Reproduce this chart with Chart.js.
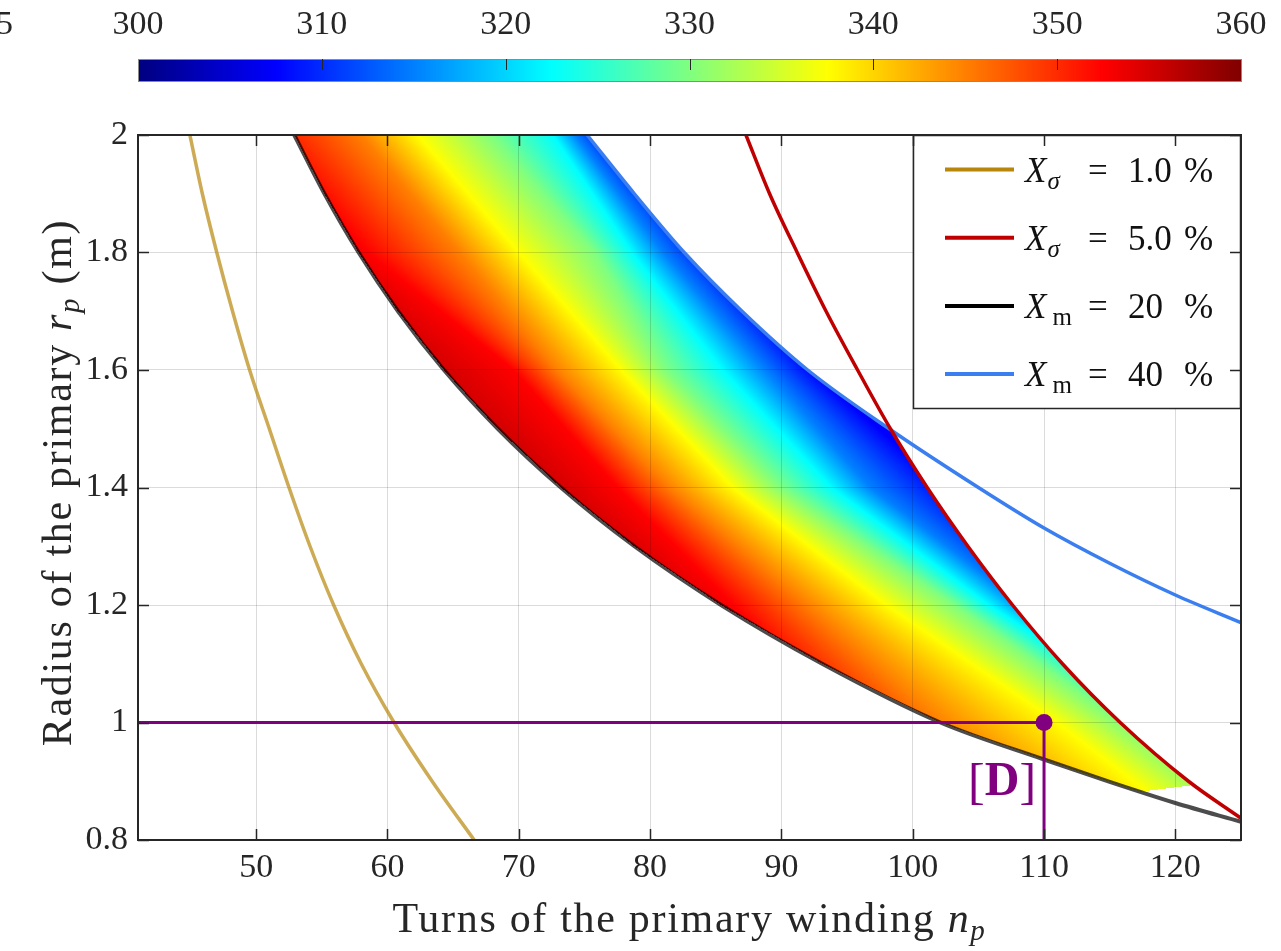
<!DOCTYPE html>
<html>
<head>
<meta charset="utf-8">
<script src="https://cdn.jsdelivr.net/npm/chart.js@4.4.1/dist/chart.umd.min.js"></script>
<style>
  html, body { margin: 0; padding: 0; background: #fff; }
</style>
</head>
<body>
<canvas id="chart" width="1281" height="951"></canvas>
<script>
const FONT = '"Liberation Serif", "Times New Roman", serif';
const INK = '#262626';

// axes
const xMin = 41, xMax = 125;
const yMin = 0.8, yMax = 2;
const xTicks = [50, 60, 70, 80, 90, 100, 110, 120];
const yTicks = [0.8, 1, 1.2, 1.4, 1.6, 1.8, 2];

// colour bar
const cbarMin = 300, cbarMax = 360;
const cbarTicks = [300, 310, 320, 330, 340, 350, 360];

// limit curves: turns n_p and radius r_p
const goldN = [44.95, 45.9, 47.0, 48.2, 49.5, 51.0, 52.5, 54.1, 55.9, 58.0, 60.5, 63.4, 66.6];
const goldR = [2.0, 1.9, 1.8, 1.7, 1.6, 1.5, 1.4, 1.3, 1.2, 1.1, 1.0, 0.9, 0.8];

const redN = [87.3, 89.1, 91.2, 93.4, 95.8, 98.3, 101.1, 104.2, 107.6, 111.4, 115.8, 121.0, 125];
const redR = [2.0, 1.9, 1.8, 1.7, 1.6, 1.5, 1.4, 1.3, 1.2, 1.1, 1.0, 0.9, 0.837];

const blackN = [52.9, 55.2, 57.8, 60.8, 64.3, 68.4, 73.2, 78.8, 85.4, 93.1, 102.1, 110, 115, 120, 125];
const blackR = [2.0, 1.9, 1.8, 1.7, 1.6, 1.5, 1.4, 1.3, 1.2, 1.1, 1.0, 0.937, 0.899, 0.863, 0.831];

const blueN = [75.2, 78.8, 82.6, 87.0, 92.0, 98.2, 105.0, 110, 115, 120, 125];
const blueR = [2.0, 1.9, 1.8, 1.7, 1.6, 1.5, 1.4, 1.331, 1.271, 1.217, 1.170];

// lower-right edge where the coloured field stops
const cutN = [117.6, 121.2];
const cutR = [0.883, 0.893];

// colour field: n_p where each colour level sits, at the radii in contourR
const contourR = [2.0, 1.8, 1.6, 1.4, 1.2, 1.0, 0.9];
const contourLevels = [357.5, 352.5, 345, 337.5, 330, 322.5, 315, 307.5];
const contour3575 = [42.0, 52.0, 59.0, 69.0, 80.0, 88.0, 96.0];
const contour3525 = [50.5, 58.5, 69.6, 77.5, 86.3, 94.5, 102.0];
const contour3450 = [58.0, 65.5, 72.9, 81.5, 92.0, 102.0, 108.0];
const contour3375 = [62.3, 70.0, 77.8, 86.3, 98.0, 111.0, 116.8];
const contour3300 = [67.9, 75.8, 81.2, 90.0, 103.2, 116.0, 122.5];
const contour3225 = [72.6, 78.6, 85.5, 93.8, 105.8, 119.5, 127.0];
const contour3150 = [74.3, 81.0, 88.8, 96.8, 108.5, 123.0, 131.0];
const contour3075 = [76.5, 84.5, 92.3, 102.5, 112.0, 127.0, 135.0];
const contours = [contour3575, contour3525, contour3450, contour3375, contour3300, contour3225, contour3150, contour3075];

// design point [D]
const markerN = 110, markerR = 1.0;
const markerLabel = 'D';

// legend
const legendSym = ['X', 'X', 'X', 'X'];
const legendSub = ['σ', 'σ', 'm', 'm'];
const legendVal = ['1.0', '5.0', '20', '40'];
const legendColors = ['rgb(184,134,11)', 'rgb(192,0,0)', 'rgb(0,0,0)', 'rgb(58,126,240)'];

const pts = (ns, rs) => ns.map((n, i) => ({ x: n, y: rs[i] }));

// linear interpolation, extrapolating past the ends
function interp(xs, ys, v) {
  const k = xs.length;
  const inc = xs[k - 1] > xs[0];
  let i = 0;
  for (; i < k - 2; i++) {
    if (inc ? v <= xs[i + 1] : v >= xs[i + 1]) break;
  }
  const t = (v - xs[i]) / (xs[i + 1] - xs[i]);
  return ys[i] + t * (ys[i + 1] - ys[i]);
}

function curveNAt(ns, rs, r) {
  if (r > rs[0]) return NaN;
  if (r < rs[rs.length - 1]) return Infinity;
  return interp(rs, ns, r);
}

function jet(v) {
  const t = Math.min(1, Math.max(0, (v - cbarMin) / (cbarMax - cbarMin)));
  const f = c => Math.round(255 * Math.min(1, Math.max(0, 1.5 - Math.abs(4 * t - c))));
  return [f(3), f(2), f(1)];
}

function fieldAt(iso, n) {
  if (n <= iso[0][0]) return iso[0][1];
  for (let k = 0; k < iso.length - 1; k++) {
    if (n <= iso[k + 1][0]) {
      const t = (n - iso[k][0]) / (iso[k + 1][0] - iso[k][0]);
      return iso[k][1] + t * (iso[k + 1][1] - iso[k][1]);
    }
  }
  return iso[iso.length - 1][1];
}

// coloured field goes under the grid, so it is painted before the axes
const heatmapPlugin = {
  id: 'heatmap',
  beforeDraw(chart) {
    const { ctx, chartArea: a, scales: { x, y } } = chart;
    const w = Math.round(a.right - a.left), h = Math.round(a.bottom - a.top);
    const off = document.createElement('canvas');
    off.width = w; off.height = h;
    const octx = off.getContext('2d');
    const img = octx.createImageData(w, h);
    const nCol = [];
    for (let i = 0; i < w; i++) nCol.push(x.getValueForPixel(a.left + i + 0.5));
    for (let j = 0; j < h; j++) {
      const r = y.getValueForPixel(a.top + j + 0.5);
      const lo = curveNAt(blackN, blackR, r);
      const hi = Math.min(curveNAt(blueN, blueR, r), curveNAt(redN, redR, r));
      if (isNaN(lo) || isNaN(hi) || !isFinite(lo)) continue;
      const iso = contourLevels.map((v, k) => [interp(contourR, contours[k], r), v]);
      for (let i = 0; i < w; i++) {
        const n = nCol[i];
        if (n < lo || n > hi) continue;
        if (r < interp(cutN, cutR, n)) continue;
        const c = jet(fieldAt(iso, n));
        const p = (j * w + i) * 4;
        img.data[p] = c[0]; img.data[p + 1] = c[1]; img.data[p + 2] = c[2]; img.data[p + 3] = 255;
      }
    }
    octx.putImageData(img, 0, 0);
    ctx.drawImage(off, a.left, a.top);
  }
};

function drawRuns(ctx, runs, x, y, align) {
  let total = 0;
  runs.forEach(r => { ctx.font = r[1]; total += ctx.measureText(r[0]).width; });
  let cx = align === 'center' ? x - total / 2 : (align === 'right' ? x - total : x);
  runs.forEach(r => {
    ctx.font = r[1];
    ctx.fillText(r[0], cx, y + (r[2] || 0));
    cx += ctx.measureText(r[0]).width;
  });
}

const decorPlugin = {
  id: 'decor',
  afterDraw(chart) {
    const { ctx, chartArea: a, scales: { x, y, cbar } } = chart;
    ctx.save();
    ctx.textAlign = 'left';
    ctx.textBaseline = 'alphabetic';

    // colour bar
    const cb0 = cbar.getPixelForValue(cbarMin), cb1 = cbar.getPixelForValue(cbarMax);
    const cbTop = 59, cbBot = 81;
    for (let px = Math.floor(cb0); px < cb1; px++) {
      const c = jet(cbar.getValueForPixel(px + 0.5));
      ctx.fillStyle = `rgb(${c[0]},${c[1]},${c[2]})`;
      ctx.fillRect(px, cbTop, 1, cbBot - cbTop);
    }
    ctx.strokeStyle = '#8a8a8a';
    ctx.lineWidth = 1;
    ctx.strokeRect(Math.floor(cb0) + 0.5, cbTop + 0.5, cb1 - cb0, cbBot - cbTop);
    ctx.strokeStyle = INK;
    cbarTicks.slice(1, -1).forEach(v => {
      const px = Math.round(cbar.getPixelForValue(v)) + 0.5;
      ctx.beginPath(); ctx.moveTo(px, cbTop); ctx.lineTo(px, cbTop + 11); ctx.stroke();
    });
    ctx.fillStyle = INK;
    ctx.font = `34px ${FONT}`;
    ctx.textAlign = 'right';
    ctx.textBaseline = 'middle';
    ctx.fillText('5', 13, 25);
    ctx.textAlign = 'left';
    ctx.textBaseline = 'alphabetic';

    // legend
    const lw = 328, lh = 273;
    const lx = a.right - lw, ly = a.top;
    ctx.fillStyle = '#fff';
    ctx.fillRect(lx, ly, lw, lh);
    ctx.strokeStyle = INK;
    ctx.lineWidth = 1.5;
    ctx.strokeRect(lx + 0.5, ly + 0.5, lw - 1, lh);
    legendSym.forEach((s, k) => {
      const cy = ly + 34.5 + k * 68.2;
      ctx.strokeStyle = legendColors[k];
      ctx.lineWidth = 4;
      ctx.beginPath(); ctx.moveTo(lx + 32, cy); ctx.lineTo(lx + 101, cy); ctx.stroke();
      ctx.fillStyle = '#111';
      const base = cy + 12;
      ctx.font = `italic 35px ${FONT}`;
      ctx.fillText(s, lx + 112, base);
      const sw = ctx.measureText(s).width;
      ctx.font = (legendSub[k] === 'm' ? '' : 'italic ') + `25px ${FONT}`;
      ctx.fillText(legendSub[k], lx + 112 + sw + (legendSub[k] === 'm' ? 6 : 1), base + 7);
      ctx.font = `35px ${FONT}`;
      ctx.fillText('=', lx + 175, base);
      ctx.fillText(legendVal[k], lx + 215, base);
      ctx.fillText('%', lx + 271, base);
    });

    // axis titles
    ctx.fillStyle = INK;
    ctx.letterSpacing = '1.7px';
    drawRuns(ctx, [
      ['Turns of the primary winding ', `42px ${FONT}`],
      ['n', `italic 42px ${FONT}`],
      ['p', `italic 29px ${FONT}`, 8]
    ], (a.left + a.right) / 2, 932, 'center');
    ctx.save();
    ctx.translate(71, (a.top + a.bottom) / 2 - 5);
    ctx.rotate(-Math.PI / 2);
    drawRuns(ctx, [
      ['Radius of the primary ', `42px ${FONT}`],
      ['r', `italic 42px ${FONT}`],
      ['p', `italic 29px ${FONT}`, 8],
      [' (m)', `42px ${FONT}`]
    ], 0, 0, 'center');
    ctx.restore();
    ctx.letterSpacing = '0px';

    // [D] label
    const mx = x.getPixelForValue(markerN), my = y.getPixelForValue(markerR);
    ctx.fillStyle = 'rgb(128,0,128)';
    const bracketFont = `50px ${FONT}`, dFont = `bold 48px ${FONT}`;
    drawRuns(ctx, [['[', bracketFont, 3], [markerLabel, dFont], [']', bracketFont, 3]], mx - 8, my + 72, 'right');

    // frame and inward ticks
    ctx.strokeStyle = INK;
    ctx.lineWidth = 2;
    ctx.strokeRect(a.left, a.top, a.right - a.left, a.bottom - a.top);
    ctx.lineWidth = 1.5;
    const tl = 11;
    xTicks.forEach(v => {
      const px = Math.round(x.getPixelForValue(v)) + 0.5;
      ctx.beginPath();
      ctx.moveTo(px, a.bottom); ctx.lineTo(px, a.bottom - tl);
      ctx.moveTo(px, a.top); ctx.lineTo(px, a.top + tl);
      ctx.stroke();
    });
    yTicks.forEach(v => {
      const py = Math.round(y.getPixelForValue(v)) + 0.5;
      ctx.beginPath();
      ctx.moveTo(a.left, py); ctx.lineTo(a.left + tl, py);
      ctx.moveTo(a.right, py); ctx.lineTo(a.right - tl, py);
      ctx.stroke();
    });
    ctx.restore();
  }
};

const lineDs = (label, ns, rs, color, width, order) => ({
  label, data: pts(ns, rs), showLine: true, borderColor: color, borderWidth: width,
  pointRadius: 0, cubicInterpolationMode: 'monotone', fill: false, order,
  xAxisID: 'x', yAxisID: 'y'
});

const tickFont = { family: FONT, size: 34 };
const noSidePadding = s => { s.paddingLeft = 0; s.paddingRight = 0; };

new Chart(document.getElementById('chart'), {
  type: 'scatter',
  data: {
    datasets: [
      {
        label: 'design guide', data: pts([xMin, markerN, markerN], [markerR, markerR, yMin]),
        showLine: true, borderColor: 'rgb(128,0,128)', borderWidth: 3, pointRadius: 0,
        tension: 0, order: 0, xAxisID: 'x', yAxisID: 'y'
      },
      {
        label: 'design point', data: pts([markerN], [markerR]),
        pointRadius: 8.5, pointBackgroundColor: 'rgb(128,0,128)', pointBorderWidth: 0,
        order: 0, xAxisID: 'x', yAxisID: 'y'
      },
      lineDs('Xσ = 1.0 %', goldN, goldR, 'rgba(184,134,11,0.7)', 3.5, 1),
      lineDs('Xσ = 5.0 %', redN, redR, 'rgb(192,0,0)', 3.5, 2),
      lineDs('Xm = 40 %', blueN, blueR, 'rgb(58,126,240)', 3.5, 3),
      lineDs('Xm = 20 %', blackN, blackR, 'rgba(0,0,0,0.7)', 4, 4)
    ]
  },
  options: {
    responsive: false,
    animation: false,
    devicePixelRatio: 1,
    layout: { padding: { top: 0, right: 40, left: 0, bottom: 0 } },
    plugins: { legend: { display: false }, tooltip: { enabled: false } },
    scales: {
      x: {
        type: 'linear', position: 'bottom', min: xMin, max: xMax,
        afterBuildTicks: s => { s.ticks = xTicks.map(v => ({ value: v })); },
        afterFit: s => { s.height = 111; noSidePadding(s); },
        grid: { color: 'rgba(0,0,0,0.14)', lineWidth: 1, drawTicks: false },
        border: { display: false },
        ticks: { font: tickFont, color: INK, padding: 8, maxRotation: 0, autoSkip: false }
      },
      y: {
        type: 'linear', position: 'left', min: yMin, max: yMax,
        afterBuildTicks: s => { s.ticks = yTicks.map(v => ({ value: v })); },
        afterFit: s => { s.width = 138; s.paddingTop = 0; s.paddingBottom = 0; },
        grid: { color: 'rgba(0,0,0,0.14)', lineWidth: 1, drawTicks: false },
        border: { display: false },
        ticks: {
          font: tickFont, color: INK, padding: 10, autoSkip: false,
          callback: v => String(Number(v.toFixed(1)))
        }
      },
      cbar: {
        type: 'linear', position: 'top', axis: 'x', min: cbarMin, max: cbarMax,
        afterBuildTicks: s => { s.ticks = cbarTicks.map(v => ({ value: v })); },
        afterFit: s => { s.height = 135; noSidePadding(s); },
        grid: { display: false, drawTicks: false },
        border: { display: false },
        ticks: { font: tickFont, color: INK, padding: 90, maxRotation: 0, autoSkip: false }
      }
    }
  },
  plugins: [heatmapPlugin, decorPlugin]
});
</script>
</body>
</html>
